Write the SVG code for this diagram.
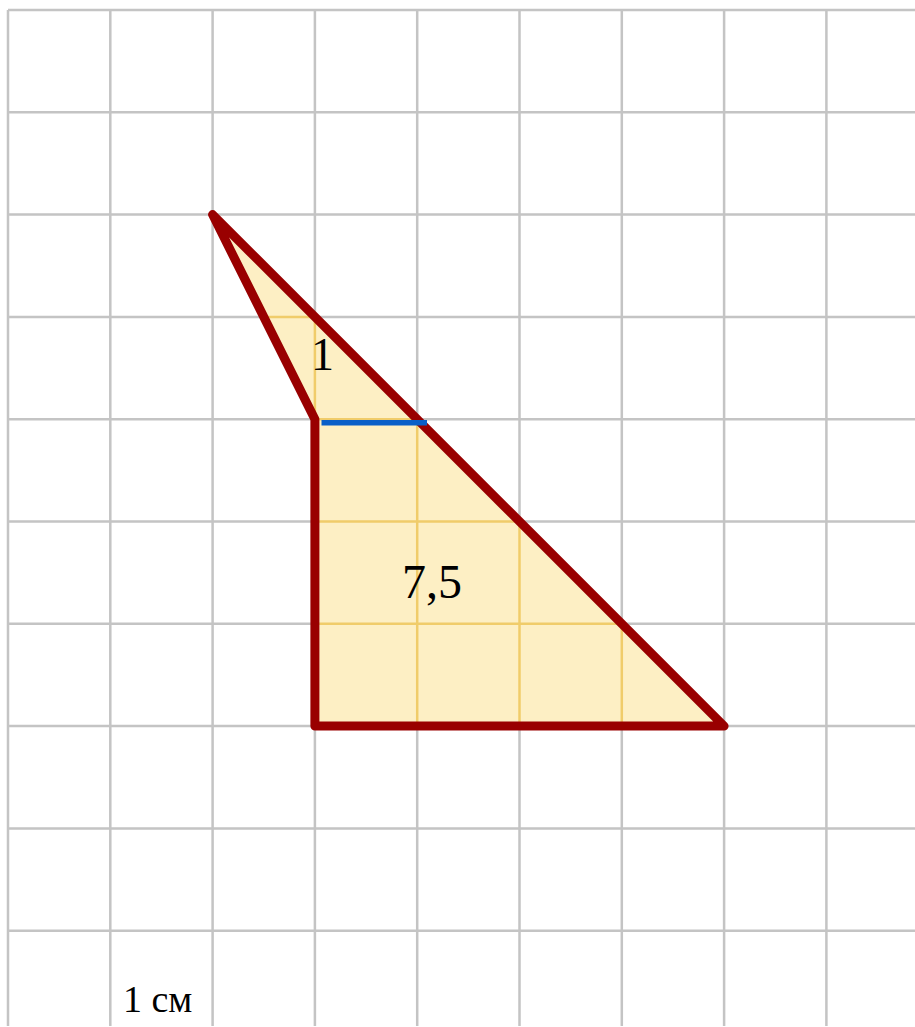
<svg xmlns="http://www.w3.org/2000/svg" width="915" height="1027" viewBox="0 0 915 1027">
<style>
.g{stroke:#c4c4c4;stroke-width:2.5;fill:none}
.ig{stroke:#f0cc6a;stroke-width:2.5;fill:none}
.t{font-family:"Liberation Serif","DejaVu Serif",serif;fill:#000}
</style>
<defs>
<clipPath id="tri"><polygon points="212.6,214.6 314.9,419.2 314.9,726.1 724.1,726.1"/></clipPath>
</defs>
<rect width="915" height="1027" fill="#fff"/>
<g id="grid" class="g">
<path d="M8,10V1026M110.3,10V1026M212.6,10V1026M314.9,10V1026M417.2,10V1026M519.5,10V1026M621.8,10V1026M724.1,10V1026M826.4,10V1026"/>
<path d="M8,10H915M8,112.3H915M8,214.6H915M8,316.9H915M8,419.2H915M8,521.5H915M8,623.8H915M8,726.1H915M8,828.4H915M8,930.7H915"/>
</g>
<g id="figure">
<polygon points="212.6,214.6 314.9,419.2 314.9,726.1 724.1,726.1" fill="#fdefc4"/>
<g clip-path="url(#tri)" class="ig">
<path d="M314.9,214V730M417.2,214V730M519.5,214V730M621.8,214V730M200,316.9H730M200,419.2H730M200,521.5H730M200,623.8H730"/>
</g>
<polygon points="212.6,214.6 314.9,419.2 314.9,726.1 724.1,726.1" fill="none" stroke="#990000" stroke-width="9" stroke-linejoin="round"/>
</g>
<g id="connectors">
<line x1="321.5" y1="422.7" x2="427" y2="422.7" stroke="#0a5fc8" stroke-width="5.5"/>
</g>
<g id="labels">
<text class="t" x="322.5" y="370" font-size="46" text-anchor="middle">1</text>
<text class="t" x="402" y="598" font-size="48">7,5</text>
<text class="t" x="123" y="1012" font-size="38">1 см</text>
</g>
</svg>
